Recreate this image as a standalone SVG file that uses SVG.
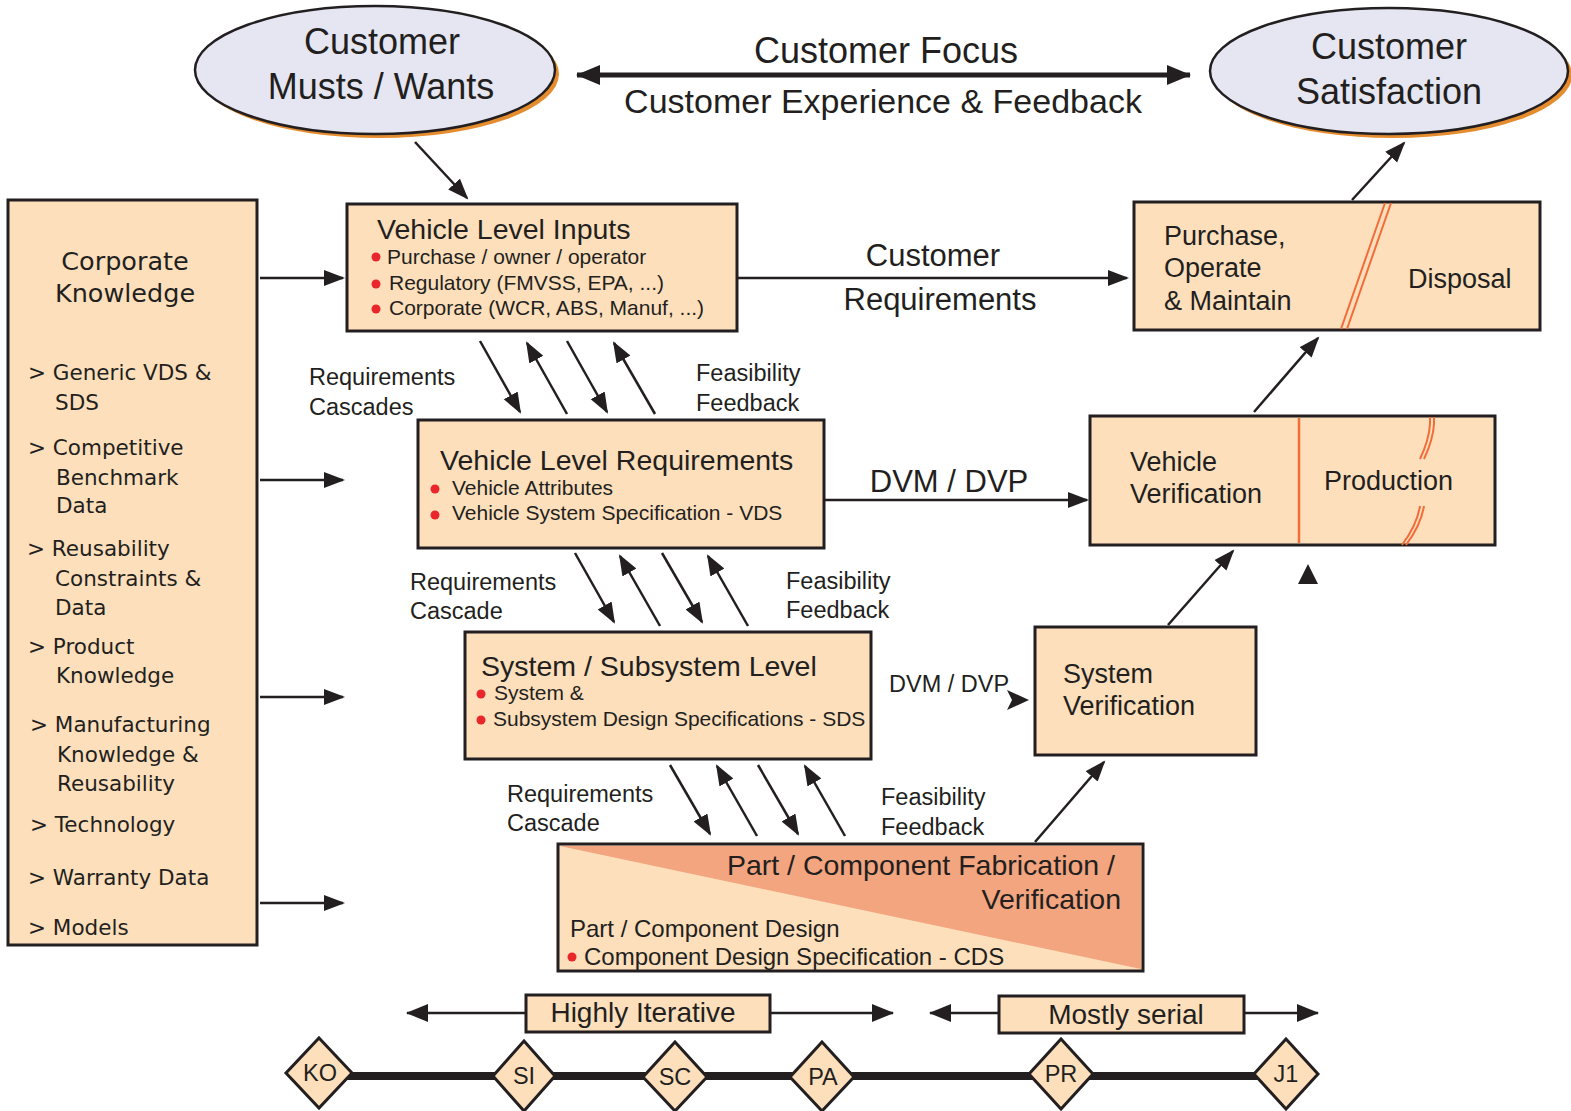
<svg xmlns="http://www.w3.org/2000/svg" width="1571" height="1111" viewBox="0 0 1571 1111">
<defs>
<style>
text{font-family:"Liberation Sans",Arial,sans-serif;fill:#231f20}
.box{fill:#fddfbc;stroke:#231f20;stroke-width:3}
.ell{fill:#e5e6f1;stroke:#231f20;stroke-width:2.5}
.shadow{fill:#e58c2f}
.ln{stroke:#231f20;stroke-width:2.5;fill:none}
.thin{stroke:#231f20;stroke-width:2.5;fill:none;marker-end:url(#ah)}
.org{stroke:#f26c3a;stroke-width:2;fill:none}
.dot{fill:#e8262b}
.ck{font-family:"DejaVu Sans",Verdana,sans-serif;font-size:21.5px}
.t35{font-size:36px}
.t31{font-size:31px}
.t28{font-size:28.5px}
.t27{font-size:27px}
.t24{font-size:23.5px}
.t21{font-size:21px}
.mid{text-anchor:middle}
.end{text-anchor:end}
</style>
<marker id="ah" markerUnits="userSpaceOnUse" markerWidth="22" markerHeight="18" refX="19" refY="8" orient="auto">
<path d="M0,0 L21,8 L0,16 z" fill="#231f20"/>
</marker>
<marker id="big" markerUnits="userSpaceOnUse" markerWidth="26" markerHeight="24" refX="23" refY="10" orient="auto-start-reverse">
<path d="M0,0 L24,10 L0,20 z" fill="#231f20"/>
</marker>
<marker id="tl" markerUnits="userSpaceOnUse" markerWidth="24" markerHeight="20" refX="21" refY="9" orient="auto">
<path d="M0,0 L22,9 L0,18 z" fill="#231f20"/>
</marker>
</defs>
<rect width="1571" height="1111" fill="#ffffff"/>

<g id="connectors">
<line x1="577" y1="75" x2="1190" y2="75" stroke="#231f20" stroke-width="5" marker-start="url(#big)" marker-end="url(#big)"/>
<line class="thin" x1="415" y1="142" x2="467" y2="198"/>
<line class="thin" x1="1352" y1="200" x2="1404" y2="143"/>
<line class="thin" x1="737" y1="278" x2="1127" y2="278"/>
<line class="thin" x1="260" y1="278" x2="343" y2="278"/>
<line class="thin" x1="260" y1="480" x2="343" y2="480"/>
<line class="thin" x1="260" y1="697" x2="343" y2="697"/>
<line class="thin" x1="260" y1="903" x2="343" y2="903"/>
<line class="thin" x1="480" y1="341" x2="520" y2="412"/>
<line class="thin" x1="567" y1="414" x2="527" y2="343"/>
<line class="thin" x1="567" y1="341" x2="607" y2="412"/>
<line class="thin" x1="655" y1="414" x2="614" y2="343"/>
<line class="thin" x1="824" y1="500" x2="1087" y2="500"/>
<line class="thin" x1="1254" y1="412" x2="1318" y2="338"/>
<line class="thin" x1="575" y1="553" x2="614" y2="622"/>
<line class="thin" x1="660" y1="626" x2="620" y2="556"/>
<line class="thin" x1="662" y1="553" x2="702" y2="622"/>
<line class="thin" x1="748" y1="626" x2="708" y2="556"/>
<path d="M1007,690 L1029,700 L1007,710 L1012,700 z" fill="#231f20"/>
<line class="thin" x1="1168" y1="625" x2="1233" y2="551"/>
<line class="thin" x1="670" y1="765" x2="710" y2="834"/>
<line class="thin" x1="757" y1="836" x2="717" y2="766"/>
<line class="thin" x1="758" y1="765" x2="798" y2="834"/>
<line class="thin" x1="845" y1="836" x2="805" y2="766"/>
<line class="thin" x1="1035" y1="842" x2="1104" y2="762"/>
<path d="M1308,564 L1318,584 L1298,584 z" fill="#231f20"/>
<line x1="525" y1="1013" x2="407" y2="1013" class="ln" marker-end="url(#tl)"/>
<line x1="770" y1="1013" x2="893" y2="1013" class="ln" marker-end="url(#tl)"/>
<line x1="999" y1="1013" x2="930" y2="1013" class="ln" marker-end="url(#tl)"/>
<line x1="1244" y1="1013" x2="1318" y2="1013" class="ln" marker-end="url(#tl)"/>
<line x1="320" y1="1076" x2="1288" y2="1076" stroke="#231f20" stroke-width="8"/>
</g>

<g id="label-customer-focus">
<text class="t35 mid" x="886" y="63">Customer Focus</text>
<text class="t35 mid" x="883" y="113" style="font-size:34px">Customer Experience &amp; Feedback</text>
</g>

<g id="customer-musts">
<ellipse class="shadow" cx="379" cy="74" rx="180" ry="64"/>
<ellipse class="ell" cx="375" cy="70" rx="180" ry="64"/>
<text class="t35 mid" x="382" y="54">Customer</text>
<text class="t35 mid" x="381" y="99">Musts / Wants</text>
</g>

<g id="customer-satisfaction">
<ellipse class="shadow" cx="1393" cy="75" rx="179" ry="63"/>
<ellipse class="ell" cx="1389" cy="71" rx="179" ry="63"/>
<text class="t35 mid" x="1389" y="59">Customer</text>
<text class="t35 mid" x="1389" y="104">Satisfaction</text>
</g>

<g id="corporate-knowledge">
<rect class="box" x="8" y="200" width="249" height="745"/>
<text class="ck mid" x="125" y="270" style="font-size:25.5px">Corporate</text>
<text class="ck mid" x="125" y="302" style="font-size:25.5px">Knowledge</text>
<text class="ck" x="28" y="380">&gt; Generic VDS &amp;</text>
<text class="ck" x="55" y="410">SDS</text>
<text class="ck" x="28" y="455">&gt; Competitive</text>
<text class="ck" x="56" y="485">Benchmark</text>
<text class="ck" x="56" y="513">Data</text>
<text class="ck" x="27" y="556">&gt; Reusability</text>
<text class="ck" x="55" y="586">Constraints &amp;</text>
<text class="ck" x="55" y="615">Data</text>
<text class="ck" x="28" y="654">&gt; Product</text>
<text class="ck" x="56" y="683">Knowledge</text>
<text class="ck" x="30" y="732">&gt; Manufacturing</text>
<text class="ck" x="57" y="762">Knowledge &amp;</text>
<text class="ck" x="57" y="791">Reusability</text>
<text class="ck" x="30" y="832">&gt; Technology</text>
<text class="ck" x="28" y="885">&gt; Warranty Data</text>
<text class="ck" x="28" y="935">&gt; Models</text>
</g>

<g id="vehicle-level-inputs">
<rect class="box" x="347" y="204" width="390" height="127"/>
<text class="t28" x="377" y="239">Vehicle Level Inputs</text>
<circle class="dot" cx="376" cy="257" r="4.5"/>
<text class="t21" x="387" y="264">Purchase / owner / operator</text>
<circle class="dot" cx="376" cy="284" r="4.5"/>
<text class="t21" x="389" y="290">Regulatory (FMVSS, EPA, ...)</text>
<circle class="dot" cx="376" cy="309" r="4.5"/>
<text class="t21" x="389" y="315">Corporate (WCR, ABS, Manuf, ...)</text>
</g>

<g id="label-customer-requirements">
<text class="t31 mid" x="933" y="266">Customer</text>
<text class="t31 mid" x="940" y="310">Requirements</text>
</g>

<g id="purchase-operate">
<rect class="box" x="1134" y="202" width="406" height="128"/>
<line class="org" x1="1385" y1="203" x2="1341" y2="329"/>
<line class="org" x1="1391" y1="203" x2="1347" y2="329"/>
<text class="t27" x="1164" y="245">Purchase,</text>
<text class="t27" x="1164" y="277">Operate</text>
<text class="t27" x="1164" y="310">&amp; Maintain</text>
<text class="t27" x="1408" y="288">Disposal</text>
</g>

<g id="label-cascade-1">
<text class="t24" x="309" y="385">Requirements</text>
<text class="t24" x="309" y="415">Cascades</text>
<text class="t24" x="696" y="381">Feasibility</text>
<text class="t24" x="696" y="411">Feedback</text>
</g>

<g id="vehicle-level-requirements">
<rect class="box" x="418" y="420" width="406" height="128"/>
<text class="t28" x="440" y="470">Vehicle Level Requirements</text>
<circle class="dot" cx="435" cy="489" r="4.5"/>
<text class="t21" x="452" y="495">Vehicle Attributes</text>
<circle class="dot" cx="435" cy="515" r="4.5"/>
<text class="t21" x="452" y="520">Vehicle System Specification - VDS</text>
</g>

<g id="label-dvm-1">
<text class="t31 mid" x="949" y="492">DVM / DVP</text>
</g>

<g id="vehicle-verification">
<rect class="box" x="1090" y="416" width="405" height="129"/>
<line x1="1299" y1="418" x2="1299" y2="543" stroke="#f26c3a" stroke-width="2.5"/>
<path class="org" d="M1430,417 L1430,424 Q1429,440 1420,459"/>
<path class="org" d="M1434,417 L1434,424 Q1433,440 1424,459"/>
<path class="org" d="M1420,506 Q1417,525 1402,545"/>
<path class="org" d="M1424,506 Q1421,525 1406,545"/>
<text class="t27" x="1130" y="471">Vehicle</text>
<text class="t27" x="1130" y="503">Verification</text>
<text class="t27" x="1324" y="490">Production</text>
</g>

<g id="label-cascade-2">
<text class="t24" x="410" y="590">Requirements</text>
<text class="t24" x="410" y="619">Cascade</text>
<text class="t24" x="786" y="589">Feasibility</text>
<text class="t24" x="786" y="618">Feedback</text>
</g>

<g id="system-subsystem-level">
<rect class="box" x="465" y="632" width="406" height="127"/>
<text class="t28" x="481" y="676">System / Subsystem Level</text>
<circle class="dot" cx="481" cy="694" r="4.5"/>
<text class="t21" x="494" y="700">System &amp;</text>
<circle class="dot" cx="481" cy="720" r="4.5"/>
<text class="t21" x="493" y="726">Subsystem Design Specifications - SDS</text>
</g>

<g id="label-dvm-2">
<text class="t24" x="889" y="692">DVM / DVP</text>
</g>

<g id="system-verification">
<rect class="box" x="1035" y="627" width="221" height="128"/>
<text class="t27" x="1063" y="683">System</text>
<text class="t27" x="1063" y="715">Verification</text>
</g>

<g id="label-cascade-3">
<text class="t24" x="507" y="802">Requirements</text>
<text class="t24" x="507" y="831">Cascade</text>
<text class="t24" x="881" y="805">Feasibility</text>
<text class="t24" x="881" y="835">Feedback</text>
</g>

<g id="part-component">
<rect x="558" y="844" width="585" height="127" fill="#fddfbc"/>
<path d="M560,846 L1141,846 L1141,969 z" fill="#f2a57e"/>
<rect x="558" y="844" width="585" height="127" fill="none" stroke="#231f20" stroke-width="3"/>
<text class="t28 end" x="1115" y="875">Part / Component Fabrication /</text>
<text class="t28 end" x="1121" y="909">Verification</text>
<text class="t24" x="570" y="937" style="font-size:24px">Part / Component Design</text>
<circle class="dot" cx="572" cy="957" r="4.5"/>
<text class="t24" x="584" y="965" style="font-size:24px">Component Design Specification - CDS</text>
</g>

<g id="highly-iterative">
<rect class="box" x="526" y="995" width="244" height="37"/>
<text class="t28 mid" x="643" y="1022" style="font-size:28px">Highly Iterative</text>
</g>
<g id="mostly-serial">
<rect class="box" x="999" y="996" width="245" height="37"/>
<text class="t28 mid" x="1126" y="1024" style="font-size:28px">Mostly serial</text>
</g>

<g id="milestone-ko"><path class="box" stroke-width="2.5" d="M319,1038 L352,1073 L319,1108 L286,1073 z"/><text class="t24 mid" x="320" y="1081">KO</text></g>
<g id="milestone-si"><path class="box" stroke-width="2.5" d="M524,1041 L555,1076 L524,1111 L493,1076 z"/><text class="t24 mid" x="524" y="1084">SI</text></g>
<g id="milestone-sc"><path class="box" stroke-width="2.5" d="M675,1042 L707,1077 L675,1111 L643,1077 z"/><text class="t24 mid" x="675" y="1085">SC</text></g>
<g id="milestone-pa"><path class="box" stroke-width="2.5" d="M822,1042 L854,1077 L822,1111 L790,1077 z"/><text class="t24 mid" x="823" y="1085">PA</text></g>
<g id="milestone-pr"><path class="box" stroke-width="2.5" d="M1061,1039 L1093,1074 L1061,1109 L1029,1074 z"/><text class="t24 mid" x="1061" y="1082">PR</text></g>
<g id="milestone-j1"><path class="box" stroke-width="2.5" d="M1286,1039 L1318,1074 L1286,1109 L1254,1074 z"/><text class="t24 mid" x="1286" y="1082">J1</text></g>
</svg>
